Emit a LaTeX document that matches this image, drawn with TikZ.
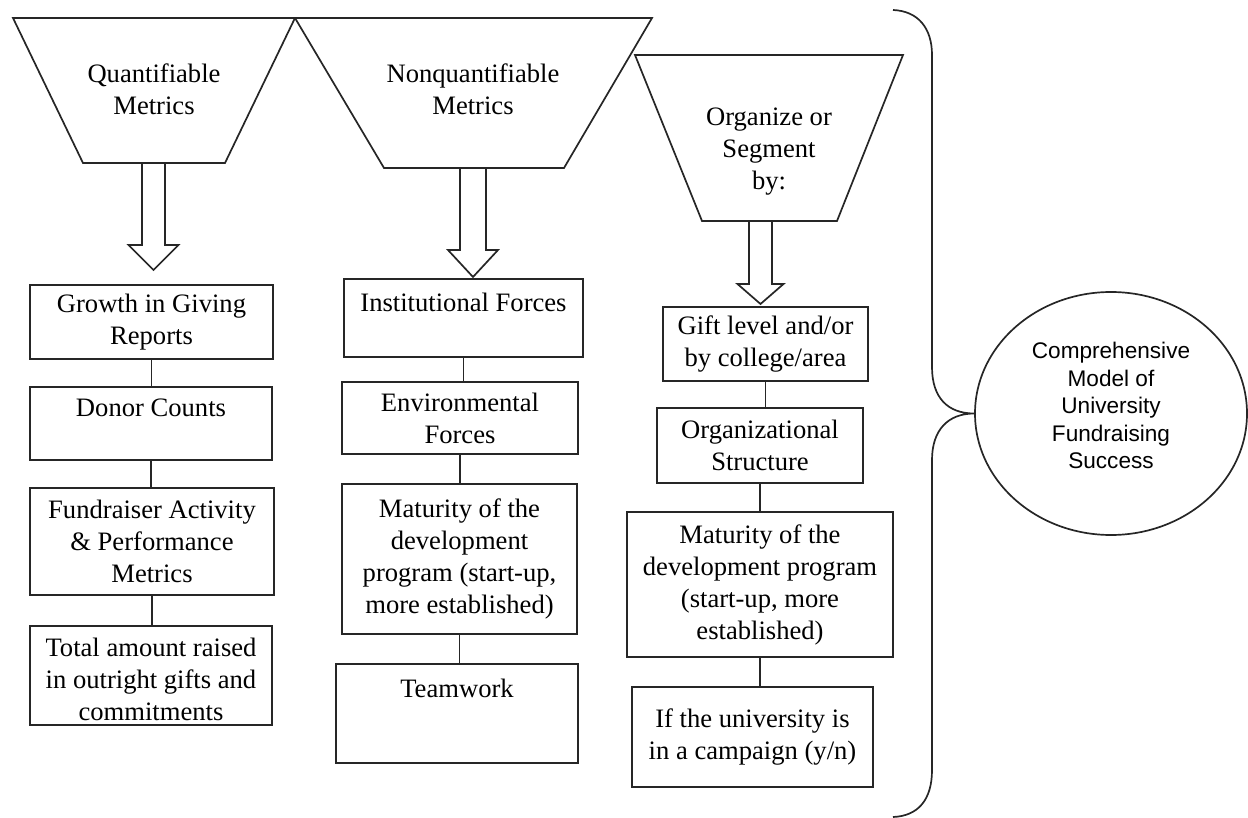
\documentclass[tikz,border=0pt]{standalone}
\usepackage{fontspec}
\setmainfont{Liberation Serif}
\newfontfamily\arialfont{Liberation Sans}
\usetikzlibrary{shapes.geometric}

% hollow block arrow: start, shaft half width, shaft length, head half width, head length
\newcommand\fatarrow[5]{\draw[fatarr] (#1) ++(-#2,0) -- ++(0,#3) -- ++(#2-#4,0) -- ++(#4,#5) -- ++(#4,-#5) -- ++(#2-#4,0) -- ++(0,-#3) -- cycle;}

\begin{document}
\begin{tikzpicture}[x=0.5pt, y=-0.5pt,
  box/.style={draw=black!85, line width=0.85pt, fill=white, align=center, inner sep=2pt,
              font=\fontsize{13.3}{16}\selectfont},
  wh/.style 2 args={minimum width=#1*0.5pt, minimum height=#2*0.5pt},
  funnel/.style={draw=black!85, line width=0.85pt, fill=white},
  funneltext/.style={align=center, font=\fontsize{13.3}{16}\selectfont},
  fatarr/.style={draw=black!85, line width=0.85pt, fill=white},
  link/.style={draw=black!85, line width=0.85pt}]
\useasboundingbox (0,0) rectangle (1248,818);

% funnels
\draw[funnel] (13,18) -- (295,18) -- (225,163) -- (83,163) -- cycle;
\draw[funnel] (295,18) -- (652,18) -- (564,168) -- (384,168) -- cycle;
\draw[funnel] (635,55) -- (903,55) -- (837,221) -- (702,221) -- cycle;
\node[funneltext] (quant) at (154,89) {Quantifiable\\Metrics};
\node[funneltext] (nonquant) at (473,89) {Nonquantifiable\\Metrics};
\node[funneltext] (segment) at (769,152) {Organize or\\Segment\\by:};

\coordinate (quantout) at (153.5,163);
\coordinate (nonquantout) at (473,168);
\coordinate (segmentout) at (760.5,221);
\fatarrow{quantout}{11.5}{82}{25}{25}
\fatarrow{nonquantout}{13}{82}{25}{27}
\fatarrow{segmentout}{11.5}{63}{23}{20}

% first column
\node[box, wh={243}{74}] (growth) at (151.5,322) {Growth in Giving\\Reports};
\node[box, wh={242}{73}] (donor) at (151,423.5) {Donor Counts\\\mbox{}};
\node[box, wh={244}{107}] (activity) at (152,541.5) {Fundraiser Activity\\\& Performance\\Metrics};
\node[box, wh={242}{99}] (total) at (151,675.5) {\rule{0pt}{13pt}Total amount raised\\in outright gifts and\\commitments};

% second column
\node[box, wh={239}{78}] (inst) at (463.5,318) {Institutional Forces\\\mbox{}};
\node[box, wh={236}{72}] (env) at (460,418) {Environmental\\Forces};
\node[box, wh={235}{150}] (devprog) at (459.5,559) {Maturity of the\\development\\program (start-up,\\more established)};
\node[box, wh={242}{99}] (team) at (457,713.5) {Teamwork\\[9pt]\mbox{}};

% third column
\node[box, wh={205}{74}] (gift) at (765.5,344) {Gift level and/or\\by college/area};
\node[box, wh={206}{75}] (orgstruct) at (760,445.5) {Organizational\\Structure};
\node[box, wh={266}{145}] (devstage) at (760,584.5) {Maturity of the\\development program\\(start-up, more\\established)};
\node[box, wh={241}{100}] (campaign) at (752.5,737) {If the university is\\in a campaign (y/n)};

\foreach \a/\b in {growth/donor, donor/activity, activity/total, inst/env, env/devprog,
                   devprog/team, gift/orgstruct, orgstruct/devstage, devstage/campaign}
  \draw[link] (\a.south) -- (\a.south |- \b.north);

\node[draw=black!85, line width=0.85pt, ellipse, minimum width=136pt, minimum height=121.5pt,
      align=center, font=\arialfont\fontsize{11.3}{13.75}\selectfont] (model) at (1111,413.5)
      {Comprehensive\\Model of\\University\\Fundraising\\Success\\[-5.75pt]\mbox{}};

\draw[link] (893,10) .. controls (918,11) and (932,28) .. (932,55) -- (932,367)
  .. controls (932,398) and (948,413.5) .. (model.west)
  .. controls (948,413.5) and (932,430) .. (932,460) -- (932,770)
  .. controls (932,800) and (918,816) .. (893,817);
\end{tikzpicture}
\end{document}
